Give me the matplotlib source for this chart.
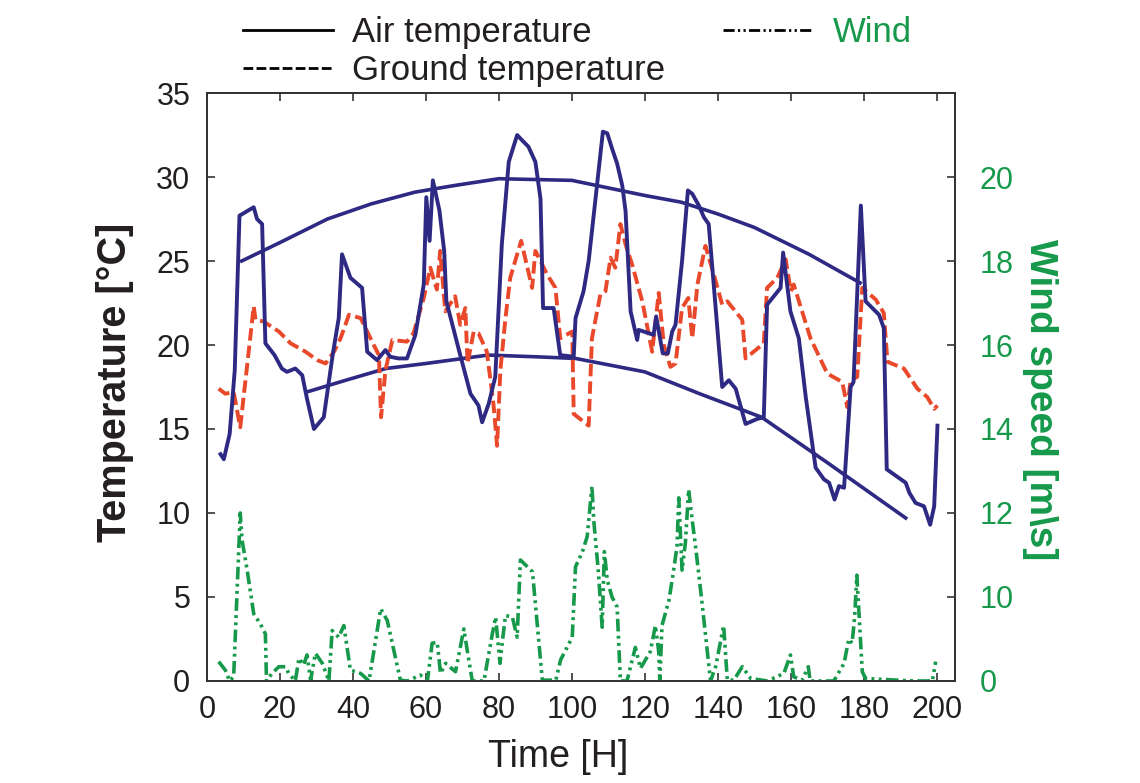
import matplotlib
matplotlib.use("Agg")
import matplotlib.pyplot as plt
from matplotlib.lines import Line2D

plt.rcParams['font.family'] = ['Liberation Sans', 'DejaVu Sans']

# air temperature [C] over time [h]
air_t = [3.7, 4.6, 6.2, 7.6, 8.9, 12.8, 13.7, 15.1, 16.0, 18.5, 20.5, 21.9, 24.2, 26.1, 27.4,
         29.3, 32.0, 34.5, 36.1, 37.0, 39.3, 42.5, 43.9, 46.6, 48.9, 50.2, 52.5, 54.8, 57.1,
         59.4, 60.1, 61.0, 61.9, 63.7, 65.0, 65.6, 69.4, 72.2, 74.4, 75.4, 77.2, 79.0, 80.8,
         82.7, 85.0, 86.3, 88.1, 90.0, 91.4, 92.1, 95.0, 96.8, 100.5, 101.0, 103.2, 104.6,
         108.5, 109.7, 111.0, 112.4, 113.8, 114.7, 116.1, 117.9, 118.3, 121.1, 122.4, 123.1,
         124.9, 126.3, 127.5, 128.4, 130.2, 131.8, 133.0, 134.8, 136.2, 137.5, 141.2, 143.0,
         144.9, 147.6, 150.8, 152.6, 153.5, 157.2, 157.9, 159.9, 162.2, 164.1, 166.8, 169.1,
         170.5, 172.0, 173.2, 174.6, 176.4, 177.2, 179.2, 180.5, 184.2, 185.5, 186.3, 191.5,
         192.5, 194.2, 196.5, 198.2, 199.3, 200.2]
air_temp = [13.5, 13.2, 14.7, 18.5, 27.7, 28.2, 27.5, 27.2, 20.1, 19.4, 18.6, 18.4, 18.6, 18.2, 16.8,
            15.0, 15.7, 19.5, 21.6, 25.4, 24.0, 23.4, 19.6, 19.1, 19.7, 19.3, 19.2, 19.2, 20.6,
            23.6, 28.8, 26.2, 29.8, 28.0, 25.6, 22.6, 19.4, 17.1, 16.4, 15.4, 16.5, 18.1, 26.0,
            30.9, 32.5, 32.2, 31.8, 30.9, 28.7, 22.2, 22.2, 19.4, 19.3, 21.6, 23.2, 25.0,
            32.7, 32.6, 31.7, 30.8, 29.5, 28.0, 22.0, 20.3, 20.9, 20.7, 20.6, 21.7,
            19.5, 19.5, 20.8, 21.2, 25.0, 29.2, 29.0, 28.3, 27.6, 27.2, 17.5, 17.9,
            17.4, 15.3, 15.6, 15.7, 22.4, 23.4, 25.5, 22.0, 20.4, 16.9, 12.7, 12.0,
            11.8, 10.8, 11.6, 11.5, 17.5, 17.8, 28.3, 22.6, 21.8, 21.0, 12.6, 11.8,
            11.2, 10.6, 10.4, 9.3, 10.4, 15.2]

# smooth max / min curves of air temperature
env_max_t = [9.5, 20, 33, 45, 57, 68, 80, 100, 120, 130, 140, 150, 165, 179]
env_max = [25.0, 26.1, 27.5, 28.4, 29.1, 29.5, 29.9, 29.8, 28.9, 28.5, 27.8, 27.0, 25.4, 23.7]
env_min_t = [27.3, 38, 49, 60, 77, 90, 101, 120, 135, 152, 170, 191.5]
env_min = [17.2, 17.9, 18.6, 18.9, 19.4, 19.3, 19.2, 18.4, 17.1, 15.7, 13.0, 9.7]

# ground temperature [C]
ground_t = [3.2, 5.0, 7.3, 9.1, 12.8, 13.3, 15.5, 19.7, 22.9, 27.0, 30.2, 32.5, 34.8, 36.6, 38.9,
            42.1, 45.7, 47.1, 47.7, 48.9, 50.8, 54.8, 56.6, 59.4, 61.2, 63.0, 63.9, 65.3, 68.0,
            69.4, 70.8, 71.4, 73.1, 74.4, 76.7, 78.5, 79.5, 80.4, 81.8, 83.1, 86.1, 89.1, 90.0,
            91.4, 93.2, 95.5, 96.8, 100.1, 100.5, 104.6, 105.5, 107.8, 109.2, 110.6, 111.9,
            113.3, 114.7, 116.5, 119.3, 122.0, 123.8, 125.2, 127.0, 128.4, 130.2, 131.9, 133.0,
            134.4, 136.6, 138.9, 141.2, 142.6, 146.7, 147.6, 152.6, 153.5, 156.3, 158.6, 160.0,
            160.8, 165.4, 170.0, 174.1, 175.5, 176.4, 178.2, 179.6, 183.3, 185.5, 186.5, 191.0,
            194.7, 197.4, 199.3, 200.2]
ground_temp = [17.4, 17.1, 17.2, 15.1, 22.3, 21.5, 21.4, 20.8, 20.1, 19.6, 19.1, 18.9, 19.6, 20.4, 21.8,
               21.6, 20.0, 19.4, 15.7, 18.5, 20.3, 20.2, 20.7, 22.8, 24.6, 23.3, 25.6, 22.0, 22.9,
               21.2, 22.2, 18.9, 20.8, 20.7, 19.6, 16.5, 14.0, 18.5, 21.6, 24.0, 26.2, 23.4, 25.6,
               25.0, 24.2, 23.4, 20.4, 20.8, 15.9, 15.2, 20.4, 23.0, 23.2, 25.2, 24.6,
               27.2, 26.0, 24.8, 22.6, 19.6, 23.1, 20.0, 18.7, 18.9, 22.2, 22.8, 20.4,
               23.6, 25.9, 24.2, 22.4, 22.6, 21.5, 19.2, 20.1, 23.4, 24.0, 25.1, 23.2,
               23.6, 20.4, 18.3, 17.8, 16.3, 17.9, 18.1, 23.4, 22.7, 21.9, 19.0, 18.6,
               17.4, 16.9, 16.2, 16.4]

# wind, height on the right axis
wind_t = [3.2, 5.0, 6.2, 7.3, 9.1, 9.6, 11.0, 12.8, 14.6, 16.0, 16.3, 17.8, 19.7, 21.5, 22.4,
          24.2, 25.2, 26.5, 27.4, 28.4, 29.7, 31.6, 33.4, 34.3, 36.1, 37.5, 39.3, 42.1, 44.4,
          47.6, 49.4, 53.0, 54.9, 58.5, 60.4, 61.7, 63.1, 64.0, 65.4, 68.1, 70.4, 71.3, 72.7,
          75.9, 78.2, 79.1, 80.3, 80.9, 81.8, 83.7, 85.0, 85.9, 87.8, 89.2, 91.9, 95.6, 96.9,
          100.1, 101.0, 102.9, 104.2, 105.5, 106.0, 107.3, 108.3, 108.9, 109.7, 111.0, 112.4,
          113.3, 115.1, 117.4, 118.8, 121.5, 122.9, 123.8, 124.1, 124.7, 126.6, 127.9, 128.8,
          129.3, 130.2, 131.1, 132.0, 133.0, 133.9, 135.7, 138.0, 139.4, 141.6, 142.6, 144.4,
          146.7, 149.0, 153.6, 158.1, 159.9, 160.8, 163.1, 164.8, 165.3, 171.8, 174.6, 175.9,
          176.8, 177.5, 178.1, 178.7, 179.6, 180.5, 184.6, 193.8, 198.8, 199.7]
wind = [1.15, 0.65, 0.0, 0.25, 10.0, 8.4, 6.6, 4.0, 3.4, 2.8, 0.0, 0.45, 0.85, 0.85, 0.45,
        0.0, 1.35, 0.95, 1.55, 0.05, 1.65, 1.05, 0.0, 3.0, 2.6, 3.3, 0.65, 0.45, 0.0,
        4.3, 3.6, 0.05, 0.0, 0.35, 0.0, 2.25, 2.3, 0.45, 1.05, 0.55, 3.1, 1.85, 0.0,
        0.0, 2.8, 3.8, 1.05, 2.25, 3.9, 3.8, 2.6, 7.2, 6.8, 6.5, 0.05, 0.05, 1.25,
        2.6, 6.8, 7.7, 8.6, 11.6, 9.55, 6.4, 3.2, 7.7, 6.0, 5.0, 4.4,
        0.0, 0.0, 2.0, 0.75, 1.75, 3.3, 1.75, 0.0, 3.3, 4.8, 6.6, 8.0,
        10.9, 6.6, 8.2, 11.4, 9.55, 8.0, 4.6, 0.0, 0.85, 3.3, 0.05, 0.05,
        0.85, 0.15, 0.0, 0.45, 1.55, 0.25, 0.05, 0.85, 0.0, 0.0, 1.05, 2.5,
        2.25, 3.8, 6.3, 4.0, 0.55, 0.15, 0.1, 0.0, 0.0, 1.15]

time_ticks = [0, 20, 40, 60, 80, 100, 120, 140, 160, 180, 200]
temp_ticks = [0, 5, 10, 15, 20, 25, 30, 35]
wind_ticks = [0, 5, 10, 15, 20, 25, 30]
wind_tick_labels = ['0', '10', '12', '14', '16', '18', '20']

navy = '#2e2a84'
red = '#e9482b'
green = '#16994a'
ink = '#231f20'

fig = plt.figure(figsize=(11.4, 7.83), dpi=100)
ax = fig.add_axes([0.1816, 0.1303, 0.6561, 0.7509])
ax2 = ax.twinx()

ax.plot(env_max_t, env_max, color=navy, lw=2.6)
ax.plot(env_min_t, env_min, color=navy, lw=2.6)
ax.plot(ground_t, ground_temp, color=red, lw=2.8, dashes=(3.2, 1.3))
ax.plot(air_t, air_temp, color=navy, lw=2.8)
ax2.plot(wind_t, wind, color=green, lw=2.6, dashes=(3.5, 1.2, 0.8, 1.2, 0.8, 1.2))

ax.set_xlim(0, 205)
ax.set_ylim(0, 35)
ax2.set_ylim(0, 35)
ax.set_xticks(time_ticks)
ax.set_yticks(temp_ticks)
ax2.set_yticks(wind_ticks)
ax2.set_yticklabels(wind_tick_labels)

ax.tick_params(direction='in', length=6, width=1.2, top=True, labelsize=22,
               colors='#333333', labelcolor=ink)
ax.tick_params(axis='y', pad=12)
ax.tick_params(axis='x', pad=10)
ax2.tick_params(direction='in', length=6, width=1.2, labelsize=22, pad=18,
                colors='#333333', labelcolor=green)
for a in (ax, ax2):
    for s in a.spines.values():
        s.set_color('#333333')
        s.set_linewidth(1.3)

ax.set_xlabel('Time [H]', fontsize=27, color=ink, va='center')
ax.xaxis.set_label_coords(0.469, -0.129)
ax.set_ylabel('Temperature [°C]', fontsize=28.5, fontweight='bold', color=ink, va='center')
ax.yaxis.set_label_coords(-0.123, 0.508)
ax2.set_ylabel('Wind speed [m\\s]', fontsize=28, fontweight='bold', color=green,
               rotation=-90, va='center')
ax2.yaxis.set_label_coords(1.114, 0.478)

handles = [Line2D([], [], color='k', lw=2),
           Line2D([], [], color='k', lw=2, dashes=(3.5, 1.2)),
           Line2D([], [], color='k', lw=2, dashes=(4, 1.2, 0.8, 1.2, 0.8, 1.2))]
labels = ['Air temperature', 'Ground temperature', 'Wind']
leg = fig.legend(handles, labels, loc='upper left', bbox_to_anchor=(0.207, 0.988),
                 ncol=2, frameon=False, fontsize=25, handlelength=2.6,
                 handletextpad=0.55, labelspacing=0.13, columnspacing=1.67,
                 borderpad=0.2, borderaxespad=0)
for txt in leg.get_texts():
    txt.set_color(ink)
leg.get_texts()[2].set_color(green)

fig.savefig('out.png', dpi=100)
